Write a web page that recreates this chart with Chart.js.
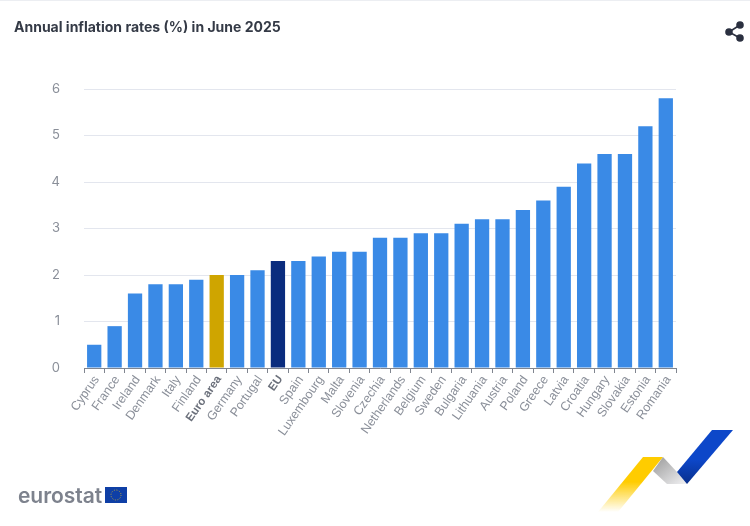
<!DOCTYPE html>
<html>
<head>
<meta charset="utf-8">
<title>Annual inflation rates</title>
<script src="https://cdn.jsdelivr.net/npm/chart.js@4"></script>
<style>
  html, body { margin: 0; padding: 0; background: #fff; overflow: hidden; }
  #wrap { position: relative; width: 750px; height: 526px; }
  #topline { position: absolute; left: 0; top: 0; width: 750px; height: 1px; background: #eceef2; }
  #salesChart { position: absolute; left: 0; top: 0; }
  .deco { position: absolute; left: 0; top: 0; }
  #brand { position: absolute; left: 18px; top: 483px; font: 600 21px Inter, sans-serif; color: #7d828d; letter-spacing: -0.05px; }
</style>
</head>
<body>
<div id="wrap">
  <canvas id="salesChart" width="750" height="526"></canvas>
  <div id="topline"></div>
  <div id="brand">eurostat</div>
  <svg class="deco" width="750" height="526">
    <defs>
      <linearGradient id="yel" x1="0" y1="1" x2="0" y2="0">
        <stop offset="0" stop-color="#ffcc00" stop-opacity="0"/>
        <stop offset="0.55" stop-color="#ffcc00"/>
      </linearGradient>
      <linearGradient id="gry" x1="0" y1="0" x2="1" y2="1">
        <stop offset="0" stop-color="#999"/>
        <stop offset="1" stop-color="#f2f2f4"/>
      </linearGradient>
      <linearGradient id="blu" x1="0" y1="1" x2="0" y2="0">
        <stop offset="0" stop-color="#082f8c"/>
        <stop offset="0.45" stop-color="#0d47c9"/>
      </linearGradient>
    </defs>
    <polygon points="643,457 663,457 618,512 598,512" fill="url(#yel)"/>
    <polygon points="663,457 677,472 687,484 667,484 653,471" fill="url(#gry)"/>
    <polygon points="712,430 733,430 687,484 677,472" fill="url(#blu)"/>
    <rect x="105" y="487" width="22" height="16" fill="#0f3fa6"/>
    <circle cx="116" cy="495" r="5" fill="none" stroke="#b9a33a" stroke-width="1" stroke-dasharray="1 1.6"/>
    <g stroke="#2b3040" stroke-width="1.6" fill="#2b3040">
      <line x1="729" y1="32" x2="740" y2="25"/>
      <line x1="729" y1="32" x2="740" y2="38"/>
      <circle cx="740" cy="25" r="3"/>
      <circle cx="729" cy="32" r="3"/>
      <circle cx="740" cy="38" r="3"/>
    </g>
  </svg>
</div>
<script>
const countries = ['Cyprus', 'France', 'Ireland', 'Denmark', 'Italy', 'Finland', 'Euro area', 'Germany', 'Portugal', 'EU', 'Spain', 'Luxembourg', 'Malta', 'Slovenia', 'Czechia', 'Netherlands', 'Belgium', 'Sweden', 'Bulgaria', 'Lithuania', 'Austria', 'Poland', 'Greece', 'Latvia', 'Croatia', 'Hungary', 'Slovakia', 'Estonia', 'Romania'];
const rates = [0.5, 0.9, 1.6, 1.8, 1.8, 1.9, 2.0, 2.0, 2.1, 2.3, 2.3, 2.4, 2.5, 2.5, 2.8, 2.8, 2.9, 2.9, 3.1, 3.2, 3.2, 3.4, 3.6, 3.9, 4.4, 4.6, 4.6, 5.2, 5.8];
const yTicks = [0, 1, 2, 3, 4, 5, 6];
const chartTitle = 'Annual inflation rates (%) in June 2025';

const barColors = countries.map(c => {
    if (c === 'Euro area') return '#cfa500';
    if (c === 'EU') return '#0a2c7e';
    return '#3a8ae6';
});

new Chart(document.getElementById('salesChart'), {
    type: 'bar',
    data: {
        labels: countries,
        datasets: [{
            data: rates,
            backgroundColor: barColors,
            barPercentage: 0.7,
            categoryPercentage: 1
        }]
    },
    options: {
        responsive: false,
        animation: false,
        layout: { padding: { left: 14, right: 74, top: 0, bottom: 0 } },
        plugins: {
            legend: { display: false },
            tooltip: { enabled: false },
            title: {
                display: true,
                text: chartTitle,
                align: 'start',
                color: '#343a46',
                font: { family: 'Inter', size: 14, weight: 'bold' },
                padding: { top: 19, bottom: 53.2 }
            }
        },
        scales: {
            x: {
                afterFit: scale => { scale.height = 158; },
                border: { color: '#80858f', width: 1 },
                grid: { offset: true, drawOnChartArea: false, tickLength: 5, tickColor: '#80858f' },
                ticks: {
                    autoSkip: false,
                    minRotation: 55,
                    maxRotation: 55,
                    padding: 0,
                    labelOffset: 2.5,
                    color: ctx => (countries[ctx.index] === 'EU' || countries[ctx.index] === 'Euro area') ? '#6b707b' : '#8a8f99',
                    font: ctx => {
                        const bold = countries[ctx.index] === 'EU' || countries[ctx.index] === 'Euro area';
                        return { family: 'Liberation Sans', size: bold ? 11.5 : 12.5, weight: bold ? 'bold' : 'normal' };
                    }
                }
            },
            y: {
                min: 0,
                max: 6,
                afterFit: scale => { scale.width = 70; },
                afterBuildTicks: scale => { scale.ticks = yTicks.map(v => ({ value: v })); },
                border: { display: false },
                grid: { color: '#e3e6ee', tickLength: 0 },
                ticks: {
                    padding: 24,
                    color: '#8a8f99',
                    font: { family: 'Inter', size: 13 }
                }
            }
        }
    }
});
</script>
</body>
</html>
